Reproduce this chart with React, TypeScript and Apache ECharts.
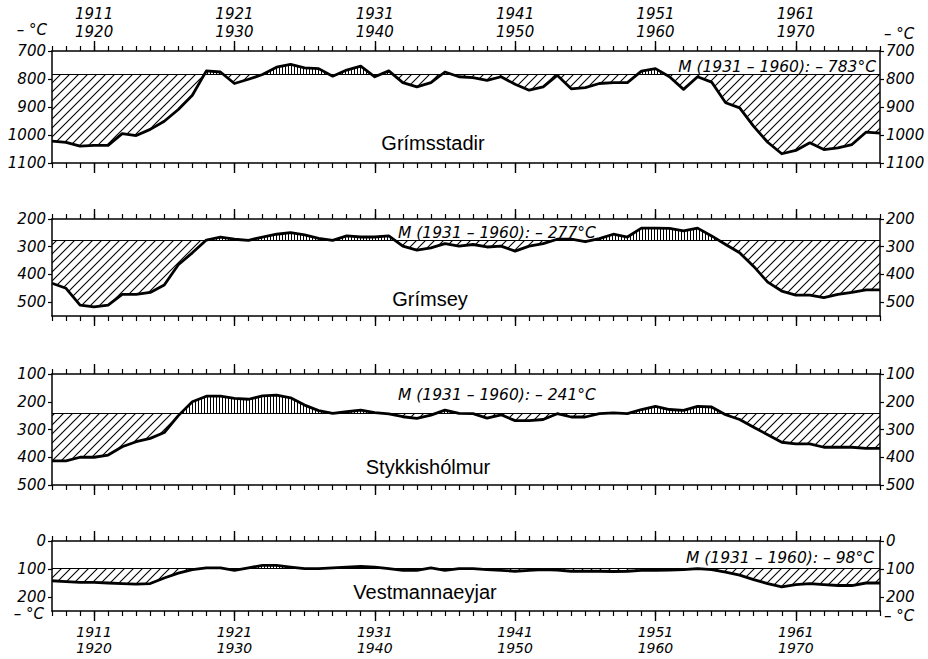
import React, { useEffect, useRef } from 'react';
import * as echarts from 'echarts';

// ---- data (10-year running sums of negative degree-days) ----
const years = [
  1908, 1909, 1910, 1911, 1912, 1913, 1914, 1915, 1916, 1917,
  1918, 1919, 1920, 1921, 1922, 1923, 1924, 1925, 1926, 1927,
  1928, 1929, 1930, 1931, 1932, 1933, 1934, 1935, 1936, 1937,
  1938, 1939, 1940, 1941, 1942, 1943, 1944, 1945, 1946, 1947,
  1948, 1949, 1950, 1951, 1952, 1953, 1954, 1955, 1956, 1957,
  1958, 1959, 1960, 1961, 1962, 1963, 1964, 1965, 1966, 1967,
];
const majorYears = [1911, 1921, 1931, 1941, 1951, 1961];
const stations = ['Grímsstadir', 'Grímsey', 'Stykkishólmur', 'Vestmannaeyjar'];

const grimsstadir = [
  1022, 1026, 1040, 1037, 1037, 995, 1002, 980, 951, 909,
  858, 771, 775, 816, 801, 784, 758, 748, 760, 763,
  790, 768, 754, 792, 771, 813, 828, 813, 775, 792,
  795, 805, 792, 819, 840, 828, 787, 835, 831, 816,
  813, 813, 772, 763, 792, 837, 792, 811, 885, 903,
  969, 1026, 1067, 1055, 1028, 1052, 1046, 1034, 990, 993,
];
const grimsey = [
  432, 450, 511, 517, 511, 472, 472, 465, 438, 365,
  322, 276, 265, 273, 277, 265, 255, 249, 257, 270,
  277, 261, 265, 265, 261, 298, 312, 304, 289, 298,
  292, 301, 298, 316, 298, 289, 273, 273, 282, 271,
  255, 265, 233, 233, 234, 243, 233, 261, 292, 322,
  371, 428, 460, 475, 475, 484, 472, 465, 456, 456,
];
const stykkisholmur = [
  413, 413, 400, 400, 392, 362, 344, 332, 311, 250,
  200, 180, 180, 188, 191, 179, 176, 186, 212, 232,
  242, 236, 230, 239, 244, 254, 260, 248, 230, 242,
  243, 259, 247, 268, 268, 264, 243, 255, 255, 243,
  240, 243, 228, 217, 228, 231, 217, 219, 247, 264,
  292, 319, 346, 352, 352, 364, 364, 364, 368, 368,
];
const vestmannaeyjar = [
  142, 145, 148, 148, 150, 152, 154, 152, 132, 115,
  102, 96, 96, 105, 96, 87, 87, 93, 99, 99,
  96, 93, 91, 93, 99, 105, 105, 96, 105, 99,
  99, 102, 105, 108, 105, 102, 104, 108, 108, 108,
  109, 108, 105, 105, 104, 102, 99, 102, 111, 122,
  138, 152, 164, 156, 152, 156, 159, 159, 150, 150,
];
const stationValues = [grimsstadir, grimsey, stykkisholmur, vestmannaeyjar];
const means = [783, 277, 241, 98];
const yMins = [700, 200, 100, 0];
const yMaxs = [1100, 550, 500, 250];
const yTickLabels = [
  [700, 800, 900, 1000, 1100],
  [200, 300, 400, 500],
  [100, 200, 300, 400, 500],
  [0, 100, 200],
];

// ---- layout ----
const GRID_LEFT = 52;
const GRID_WIDTH = 828;
const gridTops = [51, 219, 374, 541];
const gridHeights = [112, 97, 111, 70];
const NUM_FONT = 'DejaVu Sans';
const NAME_FONT = 'Liberation Sans';

function makePattern(kind: 'diag' | 'vert') {
  const c = document.createElement('canvas');
  const ctx = c.getContext('2d')!;
  if (kind === 'diag') {
    const s = 9;
    c.width = s;
    c.height = s;
    ctx.strokeStyle = '#000';
    ctx.lineWidth = 1.1;
    ctx.beginPath();
    ctx.moveTo(0, s);
    ctx.lineTo(s, 0);
    ctx.moveTo(-2, 2);
    ctx.lineTo(2, -2);
    ctx.moveTo(s - 2, s + 2);
    ctx.lineTo(s + 2, s - 2);
    ctx.stroke();
  } else {
    c.width = 3;
    c.height = 3;
    ctx.fillStyle = '#000';
    ctx.fillRect(0, 0, 1, 3);
  }
  return { image: c.toDataURL(), repeat: 'repeat', imageWidth: c.width, imageHeight: c.height };
}

export default function App() {
  const ref = useRef<HTMLDivElement>(null);

  useEffect(() => {
    if (!ref.current) return;
    const chart = echarts.init(ref.current, null, { renderer: 'svg' });
    const diag = makePattern('diag');
    const vert = makePattern('vert');

    const lineStyle = { color: '#000', width: 1.5 };
    const numLabel = {
      fontFamily: NUM_FONT,
      fontStyle: 'italic',
      fontSize: 15,
      color: '#000',
    };

    const grids: any[] = [];
    const xAxes: any[] = [];
    const yAxes: any[] = [];
    const series: any[] = [];

    gridTops.forEach((top, g) => {
      grids.push({ left: GRID_LEFT, top, width: GRID_WIDTH, height: gridHeights[g] });
      (['top', 'bottom'] as const).forEach((pos) => {
        xAxes.push({
          gridIndex: g,
          type: 'value',
          position: pos,
          min: years[0],
          max: years[years.length - 1],
          interval: 1,
          axisLine: { show: true, onZero: false, lineStyle },
          axisTick: { show: true, inside: false, length: 5, lineStyle: { color: '#000', width: 1.2 } },
          axisLabel: { show: false },
          splitLine: { show: false },
        });
        const showLabel = (pos === 'top' && g === 0) || (pos === 'bottom' && g === 3);
        xAxes.push({
          gridIndex: g,
          type: 'value',
          position: pos,
          min: years[0],
          max: years[years.length - 1],
          axisLine: { show: false, onZero: false },
          axisTick: {
            show: true,
            inside: false,
            length: 10,
            customValues: majorYears,
            lineStyle: { color: '#000', width: 1.4 },
          },
          axisLabel: {
            show: showLabel,
            customValues: majorYears,
            formatter: (v: number) => `${v}\n${v + 9}`,
            ...numLabel,
            fontSize: pos === 'top' ? 15 : 14,
            lineHeight: pos === 'top' ? 18 : 16,
            margin: pos === 'top' ? 10 : 13,
          },
          splitLine: { show: false },
        });
      });
      (['left', 'right'] as const).forEach((pos) => {
        yAxes.push({
          gridIndex: g,
          type: 'value',
          position: pos,
          inverse: true,
          min: yMins[g],
          max: yMaxs[g],
          interval: 100,
          axisLine: { show: true, onZero: false, lineStyle },
          axisTick: { show: true, length: 4, customValues: yTickLabels[g], lineStyle: { color: '#000', width: 1.2 } },
          axisLabel: {
            customValues: yTickLabels[g],
            formatter: (v: number) => String(v),
            ...numLabel,
            margin: 6,
          },
          splitLine: { show: false },
        });
      });

      const vals = stationValues[g];
      const m = means[g];
      series.push({
        type: 'custom',
        xAxisIndex: g * 4,
        yAxisIndex: g * 2,
        silent: true,
        z: 1,
        data: [[years[0], m]],
        renderItem: (_params: any, api: any) => {
          const pieces: { side: number; a: number[]; b: number[] }[] = [];
          for (let i = 0; i < vals.length - 1; i++) {
            const x0 = years[i], v0 = vals[i], x1 = years[i + 1], v1 = vals[i + 1];
            const d0 = v0 - m, d1 = v1 - m;
            if (d0 === 0 && d1 === 0) continue;
            if (d0 * d1 >= 0) {
              pieces.push({ side: d0 + d1 > 0 ? 1 : -1, a: [x0, v0], b: [x1, v1] });
            } else {
              const t = d0 / (d0 - d1);
              const xc = x0 + t * (x1 - x0);
              pieces.push({ side: d0 > 0 ? 1 : -1, a: [x0, v0], b: [xc, m] });
              pieces.push({ side: d1 > 0 ? 1 : -1, a: [xc, m], b: [x1, v1] });
            }
          }
          const runs: { side: number; pts: number[][] }[] = [];
          pieces.forEach((p) => {
            const last = runs[runs.length - 1];
            if (last && last.side === p.side && last.pts[last.pts.length - 1][0] === p.a[0]) {
              last.pts.push(p.b);
            } else {
              runs.push({ side: p.side, pts: [p.a, p.b] });
            }
          });
          const children = runs.map((r) => {
            const first = r.pts[0];
            const lastP = r.pts[r.pts.length - 1];
            const poly = [[first[0], m], ...r.pts, [lastP[0], m]].map((p) => api.coord(p));
            return {
              type: 'polygon',
              shape: { points: poly },
              style: { fill: r.side > 0 ? diag : vert, stroke: null },
            };
          });
          return { type: 'group', children };
        },
      });
      series.push({
        type: 'line',
        xAxisIndex: g * 4,
        yAxisIndex: g * 2,
        data: years.map((y, i) => [y, vals[i]]),
        symbol: 'none',
        silent: true,
        z: 3,
        lineStyle: { color: '#000', width: 2.8, join: 'round' },
        markLine: {
          silent: true,
          symbol: ['none', 'none'],
          label: { show: false },
          lineStyle: { color: '#000', width: 1.2, type: 'solid' },
          data: [{ yAxis: m }],
        },
      });
    });

    const unitFont = { fontFamily: NUM_FONT, fontStyle: 'italic', fontSize: 15, fill: '#000' };
    const meanText = (m: number) => `M (1931 – 1960): – ${m}°C`;
    const meanPos = [
      { x: 876, y: 67, align: 'right' },
      { x: 398, y: 233, align: 'left' },
      { x: 398, y: 395, align: 'left' },
      { x: 874, y: 558, align: 'right' },
    ];
    const namePos = [
      { x: 433, y: 143 },
      { x: 430, y: 299 },
      { x: 428, y: 467 },
      { x: 425, y: 592 },
    ];
    const graphic: any[] = [
      { type: 'text', x: 47, y: 30, style: { text: '– °C', align: 'right', verticalAlign: 'middle', ...unitFont } },
      { type: 'text', x: 884, y: 34, style: { text: '– °C', align: 'left', verticalAlign: 'middle', ...unitFont } },
      { type: 'text', x: 44, y: 614, style: { text: '– °C', align: 'right', verticalAlign: 'middle', ...unitFont } },
      { type: 'text', x: 884, y: 616, style: { text: '– °C', align: 'left', verticalAlign: 'middle', ...unitFont } },
    ];
    means.forEach((m, g) => {
      graphic.push({
        type: 'text',
        x: meanPos[g].x,
        y: meanPos[g].y,
        style: {
          text: meanText(m),
          align: meanPos[g].align,
          verticalAlign: 'middle',
          fontFamily: NUM_FONT,
          fontStyle: 'italic',
          fontSize: 15.5,
          fill: '#000',
        },
      });
      graphic.push({
        type: 'text',
        x: namePos[g].x,
        y: namePos[g].y,
        style: {
          text: stations[g],
          align: 'center',
          verticalAlign: 'middle',
          fontFamily: NAME_FONT,
          fontSize: 20,
          fill: '#000',
        },
      });
    });

    chart.setOption({
      animation: false,
      backgroundColor: '#fff',
      grid: grids,
      xAxis: xAxes,
      yAxis: yAxes,
      series,
      graphic,
    });
    return () => chart.dispose();
  }, []);

  return (
    <div
      ref={ref}
      style={{ position: 'fixed', left: 0, top: 0, width: 928, height: 659, background: '#fff' }}
    />
  );
}
